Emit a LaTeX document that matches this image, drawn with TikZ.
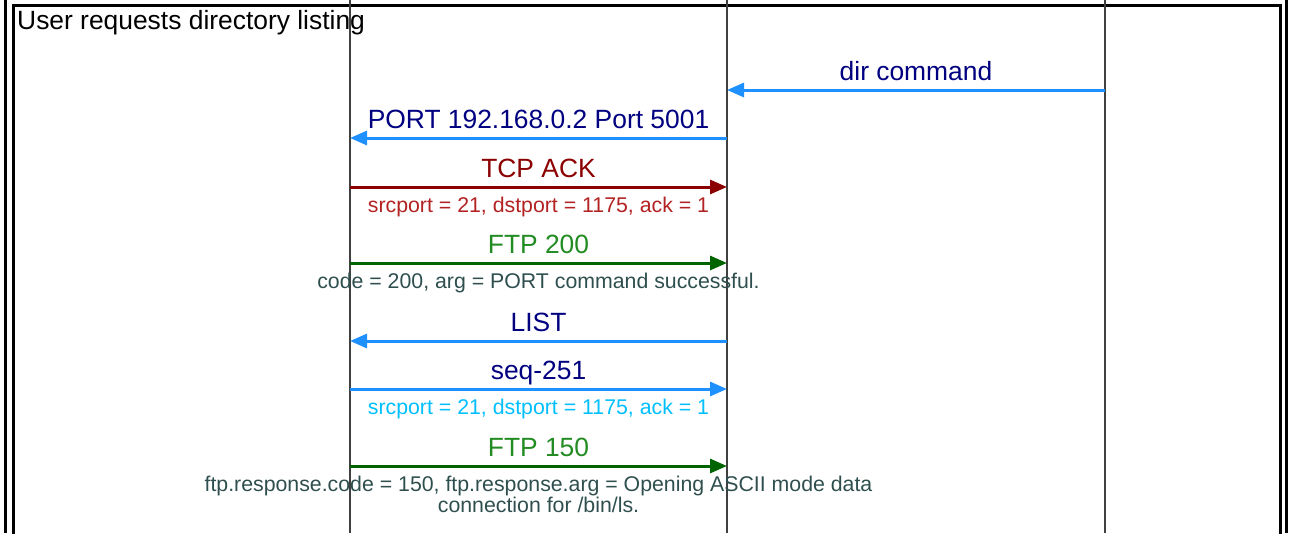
\documentclass[tikz,border=0pt]{standalone}
\usepackage{fontspec}
\setmainfont{Liberation Sans}
\usetikzlibrary{arrows.meta}
\definecolor{msgblue}{HTML}{1E90FF}
\definecolor{labnavy}{HTML}{000080}
\definecolor{ackred}{HTML}{8B0000}
\definecolor{subred}{HTML}{B22222}
\definecolor{ftpgreen}{HTML}{006400}
\definecolor{labgreen}{HTML}{228B22}
\definecolor{subslate}{HTML}{2F4F4F}
\definecolor{subsky}{HTML}{00BFFF}
\begin{document}
\begin{tikzpicture}[x=1pt,y=-1pt,
  frame/.style={line width=3pt, black, line join=miter},
  life/.style={line width=1.2pt, black!75},
  msg/.style={line width=3pt, -{Triangle[length=17pt,width=14pt]}},
  lab/.style={font=\fontsize{26.4}{30}\selectfont, inner sep=0pt, anchor=base, midway, yshift=10pt},
  sub/.style={font=\fontsize{21.3}{21}\selectfont, inner sep=0pt, anchor=base, midway, yshift=-25pt, align=center},
]
\useasboundingbox (0,0) rectangle (1290,533);
% frame
\coordinate (OLt) at (5,0);    \coordinate (OLb) at (5,533);
\coordinate (ORt) at (1286,0); \coordinate (ORb) at (1286,533);
\coordinate (ILb) at (13,540); \coordinate (ILt) at (13,5);
\coordinate (IRt) at (1280,5); \coordinate (IRb) at (1280,540);
\draw[frame] (OLt) -- (OLb);
\draw[frame] (ORt) -- (ORb);
\draw[frame] (ILb) -- (ILt) -- (IRt) -- (IRb);
\node[inner sep=0pt, anchor=base west, font=\fontsize{26.4}{30}\selectfont] (title) at (17,29) {User requests directory listing};
% lifelines
\coordinate (At) at (350,0);  \coordinate (Ab) at (350,533);
\coordinate (Bt) at (727,0);  \coordinate (Bb) at (727,533);
\coordinate (Ut) at (1105,0); \coordinate (Ub) at (1105,533);
\draw[life] (At) -- (Ab);
\draw[life] (Bt) -- (Bb);
\draw[life] (Ut) -- (Ub);
% message anchors
\foreach \n/\y in {1/90,2/138,3/187,4/263,5/341,6/389,7/466}{
  \coordinate (A\n) at (350,\y);
  \coordinate (B\n) at (727,\y);
  \coordinate (U\n) at (1105,\y);
}
\draw[msg, msgblue] (U1) -- (B1) node[lab, text=labnavy] (l1) {dir command};
\draw[msg, msgblue] (B2) -- (A2) node[lab, text=labnavy] (l2) {PORT 192.168.0.2 Port 5001};
\draw[msg, ackred] (A3) -- (B3) node[lab, text=ackred] (l3) {TCP ACK}
  node[sub, text=subred] (s3) {srcport = 21, dstport = 1175, ack = 1};
\draw[msg, ftpgreen] (A4) -- (B4) node[lab, text=labgreen] (l4) {FTP 200}
  node[sub, text=subslate] (s4) {code = 200, arg = PORT command successful.};
\draw[msg, msgblue] (B5) -- (A5) node[lab, text=labnavy] (l5) {LIST};
\draw[msg, msgblue] (A6) -- (B6) node[lab, text=labnavy] (l6) {seq-251}
  node[sub, text=subsky] (s6) {srcport = 21, dstport = 1175, ack = 1};
\draw[msg, ftpgreen] (A7) -- (B7) node[lab, text=labgreen] (l7) {FTP 150}
  node[sub, yshift=-21pt, text=subslate] (s7) {ftp.response.code = 150, ftp.response.arg = Opening ASCII mode data\\connection for /bin/ls.};
\end{tikzpicture}
\end{document}
